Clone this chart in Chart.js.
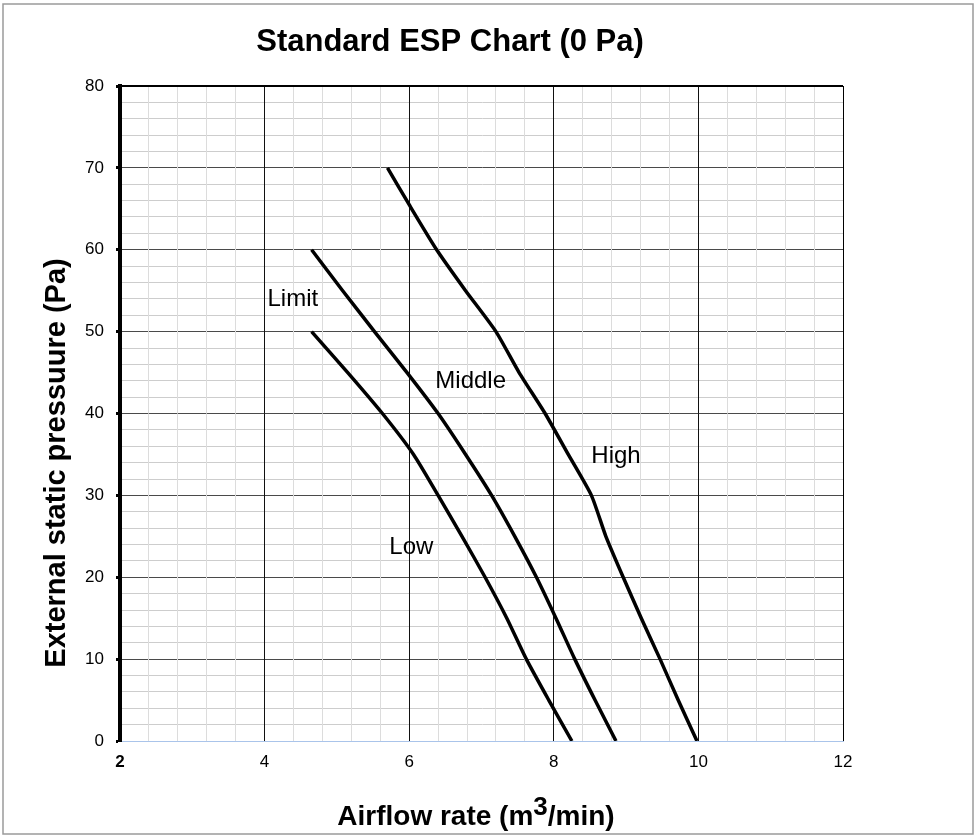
<!DOCTYPE html>
<html>
<head>
<meta charset="utf-8">
<title>Standard ESP Chart</title>
<script src="https://cdn.jsdelivr.net/npm/chart.js@4/dist/chart.umd.min.js"></script>
<style>
  html, body { margin: 0; padding: 0; background: #fff; }
  #wrap { width: 976px; height: 836px; position: relative; }
</style>
</head>
<body>
<div id="wrap"><canvas id="espChart" width="976" height="836"></canvas></div>
<script>
// curve data (airflow m3/min, pressure Pa)
const highX = [5.70, 6.00, 6.38, 6.78, 7.20, 7.52, 7.88, 8.20, 8.52, 8.72, 8.96, 9.21, 9.47, 9.72, 9.98];
const highY = [70, 65.5, 60, 55, 50, 45, 40, 35, 30, 25, 20, 15, 10, 5, 0];

const middleX = [4.65, 5.08, 5.52, 5.97, 6.40, 6.78, 7.14, 7.46, 7.76, 8.03, 8.29, 8.57, 8.86];
const middleY = [60, 55, 50, 45, 40, 35, 30, 25, 20, 15, 10, 5, 0];

const lowX = [4.65, 5.15, 5.63, 6.06, 6.40, 6.73, 7.05, 7.35, 7.62, 7.93, 8.25];
const lowY = [50, 45, 40, 35, 30, 25, 20, 15, 10, 5, 0];

// curve names and where they sit on the chart (data units)
const labelNames = ['Limit', 'Middle', 'High', 'Low'];
const labelX = [4.39, 6.85, 8.86, 6.03];
const labelY = [53.9, 43.9, 34.8, 23.6];

const xMin = 2, xMax = 12, xStep = 0.4;
const yMin = 0, yMax = 80, yStep = 2;

const FONT = 'Arial, "Liberation Sans", sans-serif';

function toPoints(xs, ys) {
    return xs.map((x, i) => ({ x: x, y: ys[i] }));
}

function curve(label, xs, ys) {
    return {
        label: label,
        data: toPoints(xs, ys),
        borderColor: '#000',
        borderWidth: 3.5,
        pointRadius: 0,
        tension: 0.2,
        fill: false
    };
}

function near(v, step) {
    const r = Math.round(v / step) * step;
    return Math.abs(v - r) < 1e-6;
}

// titles, curve labels and outer frame
const decorPlugin = {
    id: 'decor',
    beforeDraw(chart) {
        const c = chart.ctx;
        c.save();
        c.fillStyle = '#fff';
        c.fillRect(0, 0, chart.width, chart.height);
        c.restore();
    },
    afterDraw(chart) {
        const c = chart.ctx;
        const xs = chart.scales.x, ys = chart.scales.y;
        const area = chart.chartArea;
        c.save();

        // plot frame: top and right edges in black
        c.strokeStyle = '#000';
        c.lineWidth = 2;
        c.beginPath();
        c.moveTo(area.left, area.top);
        c.lineTo(area.right, area.top);
        c.stroke();
        c.lineWidth = 1;
        c.beginPath();
        c.moveTo(area.right + 0.5, area.top);
        c.lineTo(area.right + 0.5, area.bottom);
        c.stroke();

        // outer frame
        c.strokeStyle = '#9a9a9a';
        c.lineWidth = 1.5;
        c.strokeRect(3, 4, 970, 830);

        c.fillStyle = '#000';
        c.textBaseline = 'middle';
        c.textAlign = 'center';

        // main title
        c.font = 'bold 31px ' + FONT;
        c.fillText('Standard ESP Chart (0 Pa)', 450, 42);

        // x axis title with raised 3
        const partA = 'Airflow rate (m', partB = '3', partC = '/min)';
        c.font = 'bold 28px ' + FONT;
        const wA = c.measureText(partA).width;
        const wC = c.measureText(partC).width;
        c.font = 'bold 26px ' + FONT;
        const wB = c.measureText(partB).width;
        const x0 = 476 - (wA + wB + wC) / 2;
        const yT = 817;
        c.textAlign = 'left';
        c.font = 'bold 28px ' + FONT;
        c.fillText(partA, x0, yT);
        c.font = 'bold 26px ' + FONT;
        c.fillText(partB, x0 + wA, yT - 9);
        c.font = 'bold 28px ' + FONT;
        c.fillText(partC, x0 + wA + wB, yT);

        // y axis title
        c.save();
        c.translate(57, 463);
        c.rotate(-Math.PI / 2);
        c.textAlign = 'center';
        c.font = 'bold 29px ' + FONT;
        c.fillText('External static pressuure (Pa)', 0, 0);
        c.restore();

        // curve labels
        c.textAlign = 'center';
        c.font = '24px ' + FONT;
        labelNames.forEach((name, i) => {
            c.fillText(name, xs.getPixelForValue(labelX[i]), ys.getPixelForValue(labelY[i]));
        });

        c.restore();
    }
};

new Chart(document.getElementById('espChart'), {
    type: 'line',
    data: {
        datasets: [
            curve('High', highX, highY),
            curve('Middle', middleX, middleY),
            curve('Low', lowX, lowY)
        ]
    },
    options: {
        responsive: false,
        animation: false,
        layout: { padding: { top: 86, right: 133, bottom: 0, left: 0 } },
        plugins: {
            legend: { display: false },
            title: { display: false },
            tooltip: { enabled: false }
        },
        scales: {
            x: {
                type: 'linear',
                min: xMin,
                max: xMax,
                afterFit(scale) { scale.height = 95; },
                border: { color: '#aac4ea', width: 1 },
                grid: {
                    z: -1,
                    drawTicks: false,
                    lineWidth: 1,
                    color: ctx => {
                        const v = ctx.tick ? ctx.tick.value : 0;
                        if (near(v, 2)) return '#111';
                        return '#dcdcdc';
                    }
                },
                ticks: {
                    stepSize: xStep,
                    autoSkip: false,
                    maxRotation: 0,
                    padding: 11,
                    color: '#000',
                    font: ctx => ({
                        family: FONT,
                        size: 17,
                        weight: ctx.tick && Math.abs(ctx.tick.value - 2) < 1e-6 ? 'bold' : 'normal'
                    }),
                    callback: v => near(v, 2) ? String(Math.round(v)) : ''
                }
            },
            y: {
                type: 'linear',
                min: yMin,
                max: yMax,
                afterFit(scale) { scale.width = 120; },
                border: { color: '#000', width: 4 },
                grid: {
                    z: -2,
                    tickLength: 4,
                    tickWidth: 3,
                    tickColor: ctx => (ctx.tick && near(ctx.tick.value, 10)) ? '#000' : 'rgba(0,0,0,0)',
                    lineWidth: 1,
                    color: ctx => {
                        const v = ctx.tick ? ctx.tick.value : 0;
                        if (v === yMin) return '#aac4ea';
                        if (v === yMax) return '#000';
                        if (near(v, 10)) return '#4a4a4a';
                        return '#cdcdcd';
                    }
                },
                ticks: {
                    stepSize: yStep,
                    autoSkip: false,
                    padding: 12,
                    color: '#000',
                    font: { family: FONT, size: 17 },
                    callback: v => near(v, 10) ? String(Math.round(v)) : ''
                }
            }
        }
    },
    plugins: [decorPlugin]
});
</script>
</body>
</html>
